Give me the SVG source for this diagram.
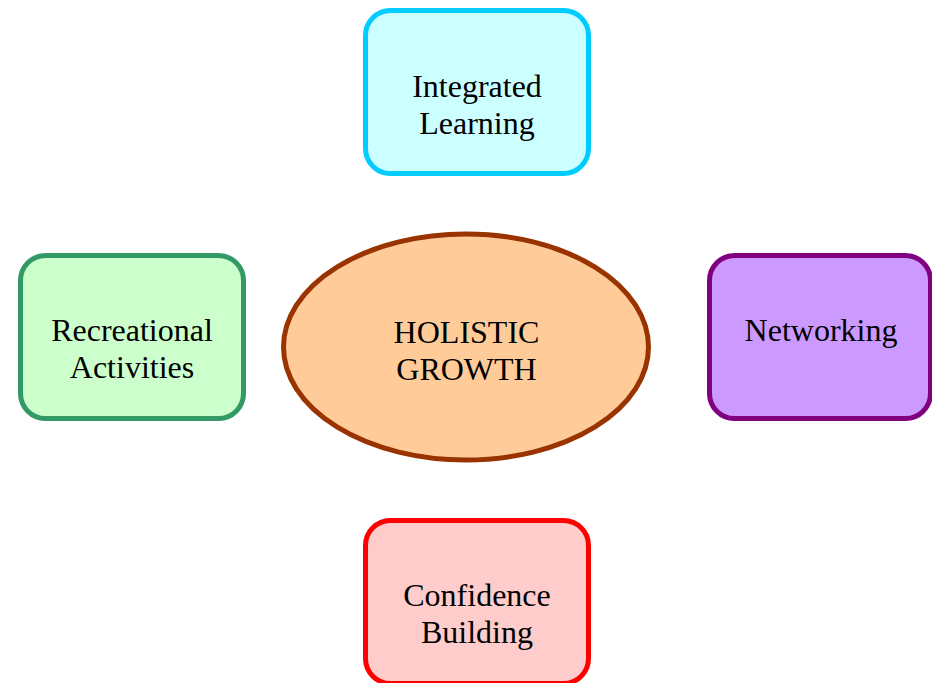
<svg xmlns="http://www.w3.org/2000/svg" width="932" height="683" viewBox="0 0 932 683">
<style>
.box{stroke-width:5}
.lbl{font-family:"Liberation Serif","Times New Roman",serif;font-size:32px;fill:#000;text-anchor:middle}
</style>
<rect width="932" height="683" fill="#fff"/>
<g id="connectors"></g>
<g id="holistic-growth">
<ellipse cx="466" cy="347" rx="182.5" ry="113" fill="#FFCC99" stroke="#993300" class="box"/>
<text class="lbl" x="466.5" y="342.7">HOLISTIC</text>
<text class="lbl" x="466.5" y="380">GROWTH</text>
</g>
<g id="integrated-learning">
<rect x="365.5" y="10.5" width="223" height="163" rx="25" fill="#CCFFFF" stroke="#00CCFF" class="box"/>
<text class="lbl" x="477" y="96.7">Integrated</text>
<text class="lbl" x="477" y="134">Learning</text>
</g>
<g id="recreational-activities">
<rect x="20.5" y="255.5" width="223" height="163" rx="25" fill="#CCFFCC" stroke="#339966" class="box"/>
<text class="lbl" x="132" y="340.7">Recreational</text>
<text class="lbl" x="132" y="378.3">Activities</text>
</g>
<g id="networking">
<rect x="709.5" y="255.5" width="221" height="163" rx="25" fill="#CC99FF" stroke="#800080" class="box"/>
<text class="lbl" x="821" y="340.7">Networking</text>
</g>
<g id="confidence-building">
<rect x="365.5" y="520.5" width="223" height="163" rx="25" fill="#FFCCCC" stroke="#FF0000" class="box"/>
<text class="lbl" x="477" y="605.7">Confidence</text>
<text class="lbl" x="477" y="643.3">Building</text>
</g>
</svg>
